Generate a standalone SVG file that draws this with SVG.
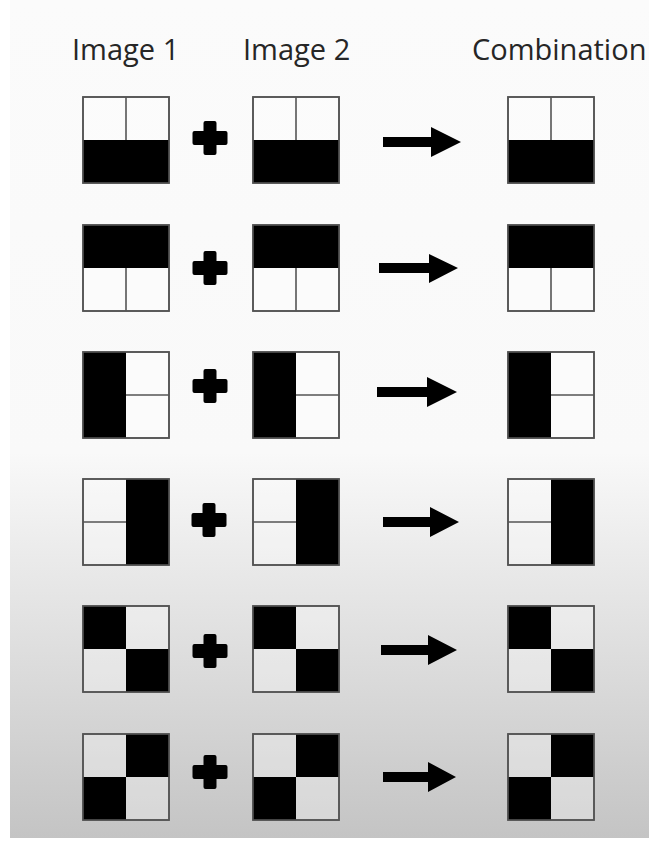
<svg xmlns="http://www.w3.org/2000/svg" xmlns:xlink="http://www.w3.org/1999/xlink" width="649" height="841" viewBox="0 0 649 841">
  <style>
    .lbl { font-family: "Open Sans", "Liberation Sans", sans-serif; font-size: 29px; fill: #262626; }
    .frame { fill: #ffffff; fill-opacity: 0.3; stroke: #555; stroke-width: 1.6; }
    .div { stroke: #555; stroke-width: 1.6; }
    .blk { fill: #000; }
    .sym { fill: #000; }
  </style>
  <defs>
    <linearGradient id="bg" x1="0" y1="0" x2="0" y2="1">
      <stop offset="0" stop-color="#fbfbfb"/>
      <stop offset="0.54" stop-color="#f9f9f9"/>
      <stop offset="0.66" stop-color="#ebebeb"/>
      <stop offset="0.82" stop-color="#d9d9d9"/>
      <stop offset="1" stop-color="#c4c4c4"/>
    </linearGradient>
    <g id="p1">
      <rect class="frame" x="0" y="0" width="86" height="86"/>
      <rect class="blk" x="0" y="43" width="86" height="43"/>
      <line class="div" x1="43" y1="0" x2="43" y2="43"/>
      <rect x="0" y="0" width="86" height="86" fill="none" stroke="#555" stroke-width="1.6"/>
    </g>
    <g id="p2">
      <rect class="frame" x="0" y="0" width="86" height="86"/>
      <rect class="blk" x="0" y="0" width="86" height="43"/>
      <line class="div" x1="43" y1="43" x2="43" y2="86"/>
      <rect x="0" y="0" width="86" height="86" fill="none" stroke="#555" stroke-width="1.6"/>
    </g>
    <g id="p3">
      <rect class="frame" x="0" y="0" width="86" height="86"/>
      <rect class="blk" x="0" y="0" width="43" height="86"/>
      <line class="div" x1="43" y1="43" x2="86" y2="43"/>
      <rect x="0" y="0" width="86" height="86" fill="none" stroke="#555" stroke-width="1.6"/>
    </g>
    <g id="p4">
      <rect class="frame" x="0" y="0" width="86" height="86"/>
      <rect class="blk" x="43" y="0" width="43" height="86"/>
      <line class="div" x1="0" y1="43" x2="43" y2="43"/>
      <rect x="0" y="0" width="86" height="86" fill="none" stroke="#555" stroke-width="1.6"/>
    </g>
    <g id="p5">
      <rect class="frame" x="0" y="0" width="86" height="86"/>
      <rect class="blk" x="0" y="0" width="43" height="43"/>
      <rect class="blk" x="43" y="43" width="43" height="43"/>
      <rect x="0" y="0" width="86" height="86" fill="none" stroke="#555" stroke-width="1.6"/>
    </g>
    <g id="p6">
      <rect class="frame" x="0" y="0" width="86" height="86"/>
      <rect class="blk" x="43" y="0" width="43" height="43"/>
      <rect class="blk" x="0" y="43" width="43" height="43"/>
      <rect x="0" y="0" width="86" height="86" fill="none" stroke="#555" stroke-width="1.6"/>
    </g>
    <g id="plus">
      <rect class="sym" x="-6.5" y="-17" width="13" height="34" rx="2"/>
      <rect class="sym" x="-17.5" y="-7" width="35" height="14" rx="2"/>
    </g>
  </defs>

  <rect x="0" y="0" width="649" height="841" fill="#ffffff"/>
  <rect x="10" y="0" width="639" height="838" fill="url(#bg)"/>

  <g id="headers">
    <text class="lbl" x="72" y="60">Image 1</text>
    <text class="lbl" x="243" y="60">Image 2</text>
    <text class="lbl" x="472" y="60">Combination</text>
  </g>

  <g id="r1-img1"><use xlink:href="#p1" x="83" y="97"/></g>
  <g id="r1-plus"><use xlink:href="#plus" x="210" y="138"/></g>
  <g id="r1-img2"><use xlink:href="#p1" x="253" y="97"/></g>
  <g id="r1-comb"><use xlink:href="#p1" x="508" y="97"/></g>

  <g id="r2-img1"><use xlink:href="#p2" x="83" y="225"/></g>
  <g id="r2-plus"><use xlink:href="#plus" x="210" y="268"/></g>
  <g id="r2-img2"><use xlink:href="#p2" x="253" y="225"/></g>
  <g id="r2-comb"><use xlink:href="#p2" x="508" y="225"/></g>

  <g id="r3-img1"><use xlink:href="#p3" x="83" y="352"/></g>
  <g id="r3-plus"><use xlink:href="#plus" x="210" y="386"/></g>
  <g id="r3-img2"><use xlink:href="#p3" x="253" y="352"/></g>
  <g id="r3-comb"><use xlink:href="#p3" x="508" y="352"/></g>

  <g id="r4-img1"><use xlink:href="#p4" x="83" y="479"/></g>
  <g id="r4-plus"><use xlink:href="#plus" x="209" y="520"/></g>
  <g id="r4-img2"><use xlink:href="#p4" x="253" y="479"/></g>
  <g id="r4-comb"><use xlink:href="#p4" x="508" y="479"/></g>

  <g id="r5-img1"><use xlink:href="#p5" x="83" y="606"/></g>
  <g id="r5-plus"><use xlink:href="#plus" x="210" y="651"/></g>
  <g id="r5-img2"><use xlink:href="#p5" x="253" y="606"/></g>
  <g id="r5-comb"><use xlink:href="#p5" x="508" y="606"/></g>

  <g id="r6-img1"><use xlink:href="#p6" x="83" y="734"/></g>
  <g id="r6-plus"><use xlink:href="#plus" x="210" y="772"/></g>
  <g id="r6-img2"><use xlink:href="#p6" x="253" y="734"/></g>
  <g id="r6-comb"><use xlink:href="#p6" x="508" y="734"/></g>

  <g id="connectors" class="sym">
    <path d="M383,137 H431 V127 L461,142 L431,157 V147 H383 Z"/>
    <path d="M379,263 H429 V254 L458,268 L429,283 V273 H379 Z"/>
    <path d="M377,387 H427 V377 L457,392 L427,407 V397 H377 Z"/>
    <path d="M383,517 H430 V507 L459,522 L430,537 V527 H383 Z"/>
    <path d="M381,645 H428 V635 L457,650 L428,665 V655 H381 Z"/>
    <path d="M383,772 H428 V762 L456,777 L428,792 V782 H383 Z"/>
  </g>
</svg>
